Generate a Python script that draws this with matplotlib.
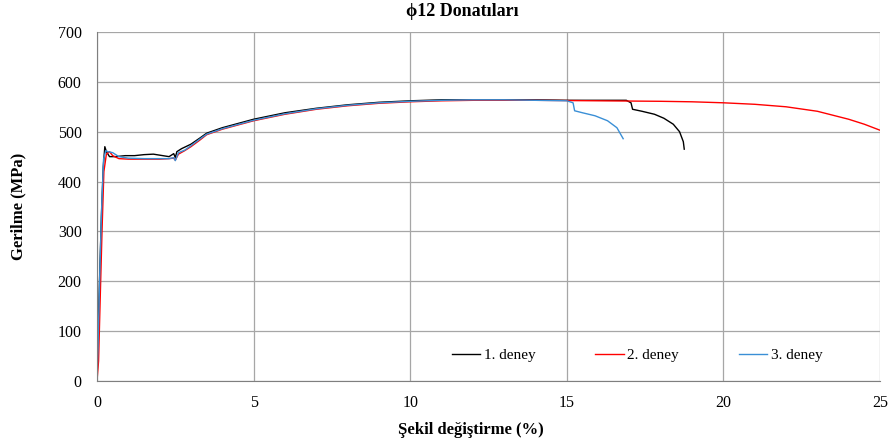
import matplotlib.pyplot as plt
import numpy as np

# deney 1 (black)
strain1 = [0.0, 0.03, 0.08, 0.14, 0.2, 0.25, 0.3, 0.4, 0.6, 0.9, 1.2, 1.5, 1.8, 2.1, 2.3, 2.45, 2.5, 2.55,
           2.7, 3.0, 3.3, 3.5, 4.0, 5.0, 6.0, 7.0, 8.0, 9.0, 10.0, 11.0, 12.0, 13.0, 14.0, 15.0, 16.0, 16.9,
           17.05, 17.1, 17.4, 17.8, 18.1, 18.4, 18.6, 18.72, 18.75]
stress1 = [0, 80, 200, 330, 430, 470, 460, 450, 450, 452, 452, 454, 455, 452, 450, 456, 448, 460,
           466, 475, 488, 497, 508, 525, 538, 547, 554, 559, 562, 564, 564, 564, 564, 563, 563, 563,
           558, 545, 541, 535, 527, 515, 500, 480, 465]

# deney 2 (red)
strain2 = [0.0, 0.05, 0.1, 0.16, 0.22, 0.3, 0.4, 0.5, 0.7, 1.0, 1.5, 2.0, 2.3, 2.45, 2.5, 2.6,
           2.8, 3.0, 3.3, 3.5, 4.0, 5.0, 6.0, 7.0, 8.0, 9.0, 10.0, 11.0, 12.0, 14.0, 16.0, 18.0,
           19.0, 20.0, 21.0, 22.0, 23.0, 23.5, 24.0, 24.5, 25.0]
stress2 = [0, 40, 160, 300, 420, 455, 460, 452, 446, 445, 445, 445, 446, 447, 443, 455,
           462, 470, 484, 494, 505, 522, 535, 545, 552, 557, 560, 562, 563, 563, 562, 561,
           560, 558, 555, 550, 541, 533, 525, 515, 503]

# deney 3 (blue)
strain3 = [0.0, 0.04, 0.09, 0.15, 0.21, 0.28, 0.35, 0.5, 0.7, 1.0, 1.5, 2.0, 2.3, 2.45, 2.5, 2.6,
           2.8, 3.0, 3.3, 3.5, 4.0, 5.0, 6.0, 7.0, 8.0, 9.0, 10.0, 11.0, 12.0, 13.0, 14.0, 15.0,
           15.2, 15.25, 15.5, 15.9, 16.3, 16.6, 16.8]
stress3 = [0, 90, 220, 350, 445, 462, 460, 458, 450, 447, 446, 446, 446, 448, 442, 458,
           463, 472, 486, 495, 506, 523, 536, 546, 553, 558, 561, 563, 564, 564, 563, 562,
           558, 542, 538, 532, 522, 508, 486]

plt.rcParams["font.family"] = ["Liberation Serif", "DejaVu Serif"]

W, H = 890, 446
fig = plt.figure(figsize=(W / 100, H / 100), dpi=100)
ax = fig.add_axes([97 / W, 1 - 381 / H, 783 / W, 349 / H])

ax.plot(strain1, stress1, color="black", lw=1.0, label="1. deney")
ax.plot(strain2, stress2, color="red", lw=1.0, label="2. deney")
ax.plot(strain3, stress3, color="#3a8fd6", lw=1.0, label="3. deney")

ax.set_xlim(0, 25)
ax.set_ylim(0, 700)
ax.set_xticks(np.arange(0, 26, 5))
ax.set_yticks(np.arange(0, 701, 100))
ax.grid(True, color="#a6a6a6", lw=0.9)
ax.set_axisbelow(True)
for s in ["top", "right"]:
    ax.spines[s].set_visible(False)
ax.spines["left"].set_color("#7f7f7f")
ax.spines["bottom"].set_color("#7f7f7f")
ax.tick_params(direction="in", length=0, labelsize=11.5, colors="black")
ax.tick_params(axis="y", pad=11)
ax.tick_params(axis="x", pad=10)

# title and axis labels placed by hand, like the original
fig.text(462 / W, 1 - 11 / H, "ϕ12 Donatıları", ha="center", va="center",
         fontsize=13, fontweight="bold")
fig.text(471 / W, 1 - 430 / H, "Şekil değiştirme (%)", ha="center", va="center",
         fontsize=12, fontweight="bold")
fig.text(18 / W, 1 - 206 / H, "Gerilme (MPa)", ha="center", va="center",
         rotation=90, fontsize=12, fontweight="bold")

ax.legend(loc="center left", ncol=3, frameon=False, handlelength=1.85, handletextpad=0.25,
          columnspacing=3.9, borderpad=0, borderaxespad=0,
          bbox_to_anchor=((452 - 97) / 783, (381 - 355) / 349),
          prop={"family": "Liberation Serif", "size": 11})

fig.savefig("out.png", dpi=100)
